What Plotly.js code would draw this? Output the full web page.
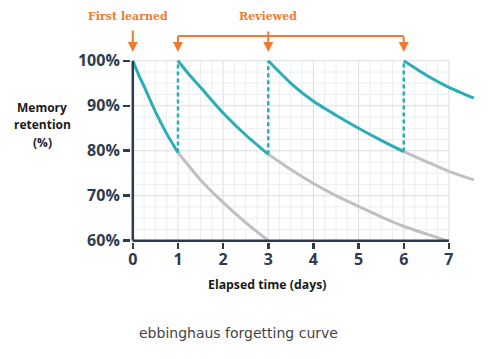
<!DOCTYPE html>
<html>
<head>
<meta charset="utf-8">
<script src="https://cdn.plot.ly/plotly-3.0.1.min.js"></script>
<style>html,body{margin:0;padding:0;background:#fff;}#chart{width:500px;height:359px;}</style>
</head>
<body>
<div id="chart"></div>
<script>
// ---- data ----
const dayTicks = [0, 1, 2, 3, 4, 5, 6, 7];
const pctTicks = [60, 70, 80, 90, 100];
const pctLabels = ["60%", "70%", "80%", "90%", "100%"];

// first learning: retention curve (teal) and continued forgetting (gray)
const learnX = [0, 0.125, 0.25, 0.5, 0.75, 1];
const learnY = [100, 97, 94.3, 88.7, 83.8, 79.6];
const forget1X = [1, 1.5, 2, 2.5, 3];
const forget1Y = [79.6, 73.5, 68.5, 64, 60];

// review 1 (day 1)
const review1X = [1, 1.25, 1.5, 2, 2.5, 3];
const review1Y = [100, 96.9, 94.1, 88.4, 83.5, 79.2];
const forget2X = [3, 3.5, 4, 4.5, 5, 5.5, 6, 6.5, 6.95];
const forget2Y = [79.2, 75.8, 72.7, 70, 67.6, 65.3, 63.2, 61.5, 60];

// review 2 (day 3)
const review2X = [3, 3.5, 4, 4.5, 5, 5.5, 6];
const review2Y = [100, 95, 91, 87.9, 85, 82.3, 79.8];
const forget3X = [6, 6.5, 7, 7.55];
const forget3Y = [79.8, 77.6, 75.4, 73.5];

// review 3 (day 6)
const review3X = [6, 6.5, 7, 7.55];
const review3Y = [100, 96.8, 94.1, 91.7];

// review jumps (dashed verticals)
const reviewDays = [1, 3, 6];
const jumpFrom = [79.6, 79.2, 79.8];
const jumpTo = [100, 100, 100];

// ---- styles ----
const TEAL = "#2aadb6";
const GRAY = "#c0c0c0";
const AXIS = "#2e3a4f";
const ORANGE = "#f07b30";

const traces = [];
function curve(x, y, color) {
  traces.push({x: x, y: y, type: "scatter", mode: "lines",
    line: {color: color, width: 3, shape: "spline", smoothing: 0.6},
    hoverinfo: "skip", showlegend: false});
}
curve(forget1X, forget1Y, GRAY);
curve(forget2X, forget2Y, GRAY);
curve(forget3X, forget3Y, GRAY);
curve(learnX, learnY, TEAL);
curve(review1X, review1Y, TEAL);
curve(review2X, review2Y, TEAL);
curve(review3X, review3Y, TEAL);
reviewDays.forEach(function (d, i) {
  traces.push({x: [d, d], y: [jumpFrom[i], jumpTo[i]], type: "scatter", mode: "lines",
    line: {color: TEAL, width: 2.5, dash: "4px,3px"}, hoverinfo: "skip", showlegend: false});
});

// ---- layout geometry ----
const XR = [-0.04, 7.6];
const ML = 131, MR = 24, MT = 59, MB = 117, W = 500, H = 359;
const PW = W - ML - MR, PH = H - MT - MB;
function px2paperX(px) { return (px - ML) / PW; }
function py2paperY(py) { return (H - MB - py) / PH; }
function dataX2paper(x) { return (x - XR[0]) / (XR[1] - XR[0]); }

const xMax = dayTicks[dayTicks.length - 1];
const yMin = pctTicks[0], yMax = pctTicks[pctTicks.length - 1];

const shapes = [];
// grid
for (let x = 0.25; x <= xMax + 1e-9; x += 0.25) {
  const major = Math.abs(x - Math.round(x)) < 1e-9;
  shapes.push({type: "line", xref: "x", yref: "y", x0: x, x1: x, y0: yMin, y1: yMax,
    line: {color: major ? "#d9dde3" : "#eceef2", width: 1}, layer: "below"});
}
for (let y = yMin + 2.5; y <= yMax + 1e-9; y += 2.5) {
  const major = Math.abs((y / 10) - Math.round(y / 10)) < 1e-9;
  shapes.push({type: "line", xref: "x", yref: "y", x0: 0, x1: xMax, y0: y, y1: y,
    line: {color: major ? "#d9dde3" : "#eceef2", width: 1}, layer: "below"});
}
// axis lines
shapes.push({type: "line", xref: "x", yref: "y", x0: 0, x1: 0, y0: yMin, y1: yMax,
  line: {color: AXIS, width: 2.5}});
shapes.push({type: "line", xref: "x", yref: "y", x0: 0, x1: xMax, y0: yMin, y1: yMin,
  line: {color: AXIS, width: 2.5}});
// orange bracket
const bracketY = py2paperY(36);
shapes.push({type: "line", xref: "paper", yref: "paper",
  x0: dataX2paper(reviewDays[0]), x1: dataX2paper(reviewDays[reviewDays.length - 1]),
  y0: bracketY, y1: bracketY, line: {color: ORANGE, width: 2}});

const annotations = [];
const tipY = py2paperY(52);
function arrow(x, len) {
  annotations.push({xref: "x", yref: "paper", x: x, y: tipY, text: "", showarrow: true,
    ax: 0, ay: -len, arrowhead: 2, arrowsize: 1, arrowwidth: 2, arrowcolor: ORANGE, standoff: 0});
}
arrow(0, 23);
arrow(reviewDays[0], 17);
arrow(reviewDays[1], 22);
arrow(reviewDays[2], 17);

function label(text, px, py, size, color, family, weight, anchor) {
  annotations.push({xref: "paper", yref: "paper", x: px2paperX(px), y: py2paperY(py),
    xanchor: anchor || "center", yanchor: "middle", showarrow: false, text: text,
    font: {family: family, size: size, color: color, weight: weight}});
}
const SANS = "Open Sans, Noto Sans, sans-serif";
const SLAB = "DejaVu Serif, Liberation Serif, serif";
label("First learned", 128, 17, 11, ORANGE, SLAB, 700);
label("Reviewed", 268, 17, 11, ORANGE, SLAB, 700);
label("Memory", 42, 107, 12, "#1a1a1a", SANS, 700);
label("retention", 42, 125, 12, "#1a1a1a", SANS, 700);
label("(%)", 42, 142, 12, "#1a1a1a", SANS, 700);
label("Elapsed time (days)", 267, 284, 12.3, "#1a1a1a", SANS, 700);
label("ebbinghaus forgetting curve", 238, 333, 14, "#444444", "DejaVu Sans, sans-serif", 400);

const layout = {
  width: W, height: H,
  margin: {l: ML, r: MR, t: MT, b: MB, pad: 0},
  paper_bgcolor: "#ffffff", plot_bgcolor: "#ffffff",
  showlegend: false,
  xaxis: {range: XR, showgrid: false, zeroline: false, showline: false,
    tickmode: "array", tickvals: dayTicks, ticktext: dayTicks.map(String),
    ticks: "outside", ticklen: 6, tickwidth: 2.5, tickcolor: AXIS, ticklabelstandoff: -3,
    tickfont: {family: SANS, size: 16, color: AXIS, weight: 700}, fixedrange: true},
  yaxis: {range: [59.7, 100.4], showgrid: false, zeroline: false, showline: false,
    tickmode: "array", tickvals: pctTicks, ticktext: pctLabels,
    ticks: "outside", ticklen: 7, tickwidth: 2.5, tickcolor: AXIS,
    tickfont: {family: SANS, size: 16, color: AXIS, weight: 700}, fixedrange: true},
  shapes: shapes,
  annotations: annotations
};

Plotly.newPlot("chart", traces, layout, {staticPlot: true, displayModeBar: false});
</script>
</body>
</html>
